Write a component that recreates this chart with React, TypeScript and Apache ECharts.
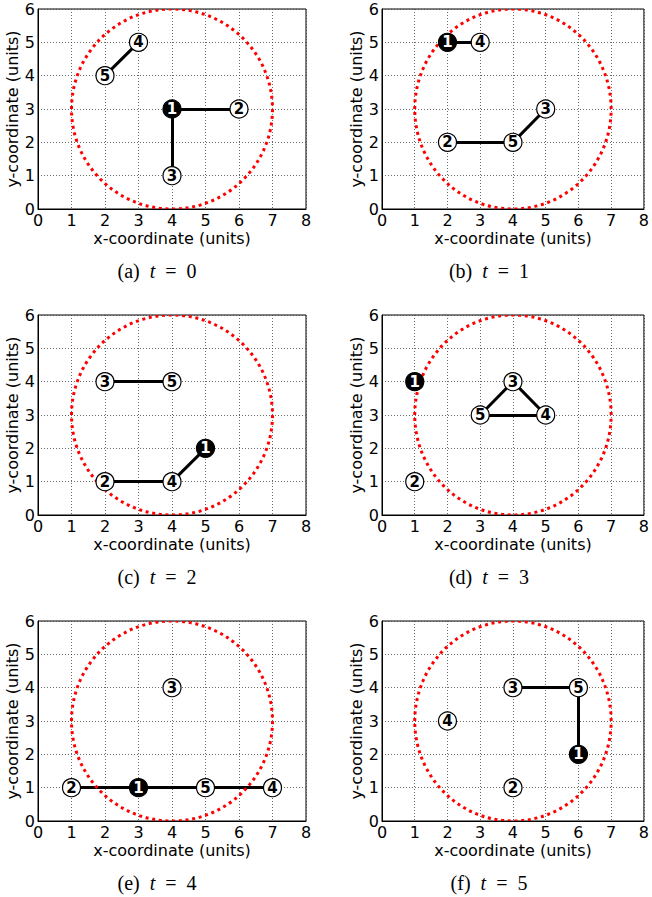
import React, { useEffect, useRef } from "react";
import * as echarts from "echarts";

// ---- data ----
const panelLetters = ["a", "b", "c", "d", "e", "f"];
const timeSteps = [0, 1, 2, 3, 4, 5];

// [nodeId, x, y]
const nodesT0 = [[1, 4, 3], [2, 6, 3], [3, 4, 1], [4, 3, 5], [5, 2, 4]];
const nodesT1 = [[1, 2, 5], [2, 2, 2], [3, 5, 3], [4, 3, 5], [5, 4, 2]];
const nodesT2 = [[1, 5, 2], [2, 2, 1], [3, 2, 4], [4, 4, 1], [5, 4, 4]];
const nodesT3 = [[1, 1, 4], [2, 1, 1], [3, 4, 4], [4, 5, 3], [5, 3, 3]];
const nodesT4 = [[1, 3, 1], [2, 1, 1], [3, 4, 4], [4, 7, 1], [5, 5, 1]];
const nodesT5 = [[1, 6, 2], [2, 4, 1], [3, 4, 4], [4, 2, 3], [5, 6, 4]];

// [fromId, toId]
const edgesT0 = [[1, 2], [1, 3], [5, 4]];
const edgesT1 = [[1, 4], [2, 5], [5, 3]];
const edgesT2 = [[3, 5], [2, 4], [4, 1]];
const edgesT3 = [[3, 5], [3, 4], [5, 4]];
const edgesT4 = [[2, 1], [1, 5], [5, 4]];
const edgesT5 = [[3, 5], [5, 1]];

const headNode = 1;
const rangeCenter = [4, 3];
const rangeRadius = 3;

const xTicks = [0, 1, 2, 3, 4, 5, 6, 7, 8];
const yTicks = [0, 1, 2, 3, 4, 5, 6];

const allNodes = [nodesT0, nodesT1, nodesT2, nodesT3, nodesT4, nodesT5];
const allEdges = [edgesT0, edgesT1, edgesT2, edgesT3, edgesT4, edgesT5];

// ---- layout ----
const colLeft = [38, 382];
const colWidth = [268, 266];
const rowTop = [9, 315, 621];
const plotH = 200;
const captionX = [157, 489];
const captionDy = 262;

const SANS = "DejaVu Sans";
const SERIF = "Liberation Serif";

export default function App() {
  const ref = useRef<HTMLDivElement>(null);

  useEffect(() => {
    if (!ref.current) return;
    const chart = echarts.init(ref.current, undefined, { renderer: "svg" });

    const grids: any[] = [];
    const xAxes: any[] = [];
    const yAxes: any[] = [];
    const series: any[] = [];
    const graphics: any[] = [];

    allNodes.forEach((nodes, i) => {
      const col = i % 2;
      const row = Math.floor(i / 2);
      grids.push({
        left: colLeft[col],
        top: rowTop[row],
        width: colWidth[col],
        height: plotH,
        show: true,
        borderColor: "#000",
        borderWidth: 1,
        backgroundColor: "#fff",
      });
      xAxes.push({
        gridIndex: i,
        type: "value",
        min: xTicks[0],
        max: xTicks[xTicks.length - 1],
        interval: 1,
        name: "x-coordinate (units)",
        nameLocation: "middle",
        nameGap: 21,
        nameTextStyle: { fontFamily: SANS, fontSize: 16, color: "#000" },
        axisLine: { show: true, lineStyle: { color: "#000", width: 1 } },
        axisTick: { show: false },
        axisLabel: { fontFamily: SANS, fontSize: 16, color: "#000", margin: 3 },
        splitLine: { show: true, lineStyle: { color: "#444", width: 0.8, type: [1, 2] } },
      });
      yAxes.push({
        gridIndex: i,
        type: "value",
        min: yTicks[0],
        max: yTicks[yTicks.length - 1],
        interval: 1,
        name: "y-coordinate (units)",
        nameLocation: "middle",
        nameGap: 16,
        nameTextStyle: { fontFamily: SANS, fontSize: 16, color: "#000" },
        axisLine: { show: true, lineStyle: { color: "#000", width: 1 } },
        axisTick: { show: false },
        axisLabel: { fontFamily: SANS, fontSize: 16, color: "#000", margin: 3 },
        splitLine: { show: true, lineStyle: { color: "#444", width: 0.8, type: [1, 2] } },
      });

      const pos: Record<number, number[]> = {};
      nodes.forEach(([id, x, y]) => (pos[id] = [x, y]));

      series.push({
        type: "lines",
        coordinateSystem: "cartesian2d",
        xAxisIndex: i,
        yAxisIndex: i,
        z: 2,
        silent: true,
        lineStyle: { color: "#000", width: 3, opacity: 1 },
        data: allEdges[i].map(([a, b]) => ({ coords: [pos[a], pos[b]] })),
      });

      series.push({
        type: "custom",
        xAxisIndex: i,
        yAxisIndex: i,
        z: 3,
        clip: true,
        silent: true,
        data: [[rangeCenter[0], rangeCenter[1], rangeRadius]],
        renderItem: (params: any, api: any) => {
          const c = api.coord([api.value(0), api.value(1)]);
          const s = api.size([api.value(2), api.value(2)]);
          return {
            type: "ellipse",
            shape: { cx: c[0], cy: c[1], rx: s[0], ry: s[1] },
            style: { fill: "none", stroke: "#ff0000", lineWidth: 3, lineDash: [3, 3.7] },
          };
        },
      });

      series.push({
        type: "scatter",
        xAxisIndex: i,
        yAxisIndex: i,
        z: 4,
        symbol: "circle",
        symbolSize: 18,
        itemStyle: { opacity: 1 },
        data: nodes.map(([id, x, y]) => ({
          value: [x, y, id],
          itemStyle: {
            color: id === headNode ? "#000" : "#fff",
            borderColor: "#000",
            borderWidth: 1.2,
            opacity: 1,
          },
          label: { color: id === headNode ? "#fff" : "#000" },
        })),
        label: {
          show: true,
          position: "inside",
          formatter: (p: any) => String(p.value[2]),
          fontFamily: SANS,
          fontWeight: "bold",
          fontSize: 15,
          textBorderWidth: 0,
        },
      });

      graphics.push({
        type: "text",
        x: captionX[col],
        y: rowTop[row] + captionDy,
        style: {
          text: `{n|(${panelLetters[i]})  }{i|t}{n|  =  ${timeSteps[i]}}`,
          textAlign: "center",
          textVerticalAlign: "middle",
          align: "center",
          verticalAlign: "middle",
          fill: "#000",
          rich: {
            n: { fontFamily: SERIF, fontSize: 20, fill: "#000", color: "#000" },
            i: { fontFamily: SERIF, fontSize: 20, fontStyle: "italic", fill: "#000", color: "#000" },
          },
        },
      });
    });

    chart.setOption({
      animation: false,
      backgroundColor: "#fff",
      grid: grids,
      xAxis: xAxes,
      yAxis: yAxes,
      series,
      graphic: graphics,
    });

    return () => chart.dispose();
  }, []);

  return (
    <div
      ref={ref}
      style={{ position: "absolute", left: 0, top: 0, width: 652, height: 897 }}
    />
  );
}
